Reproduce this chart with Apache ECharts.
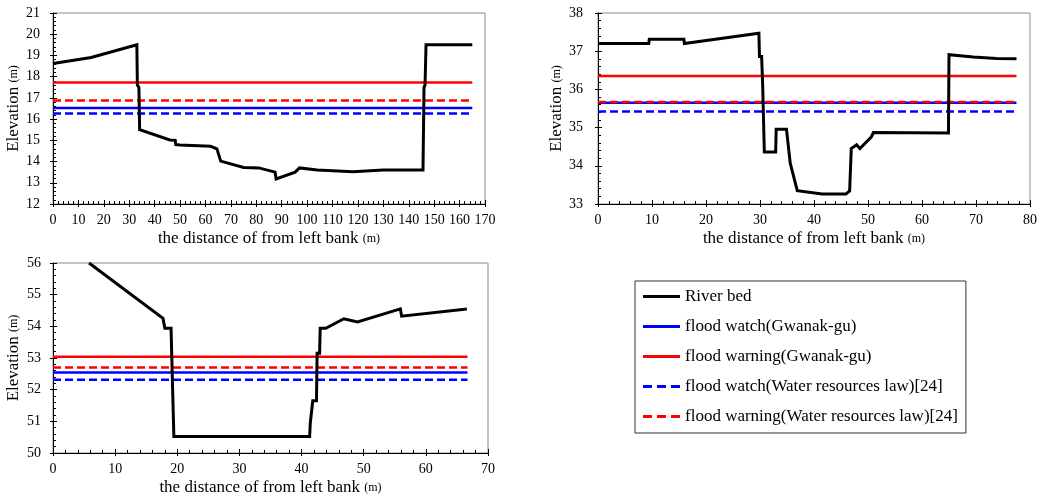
<!DOCTYPE html>
<html>
<head>
<meta charset="utf-8">
<script src="https://cdn.jsdelivr.net/npm/echarts@6/dist/echarts.min.js"></script>
<style>html,body{margin:0;padding:0;background:#fff;}#c{width:1040px;height:497px;}</style>
</head>
<body>
<div id="c"></div>
<script>
// ---- Data ----
const seriesNames = ['River bed', 'flood watch(Gwanak-gu)', 'flood warning(Gwanak-gu)', 'flood watch(Water resources law)[24]', 'flood warning(Water resources law)[24]'];

// Section 1
const bed1Dist = [0, 15, 33, 33.2, 33.8, 34, 34.1, 46, 48.1, 48.3, 50, 62, 64.5, 66, 75, 81, 87.4, 87.8, 95.3, 97, 104, 118, 130, 145.6, 146, 146.4, 146.8, 165];
const bed1Elev = [18.62, 18.9, 19.5, 17.6, 17.5, 17.5, 15.5, 15.02, 15.0, 14.8, 14.78, 14.72, 14.6, 14.02, 13.72, 13.7, 13.5, 13.18, 13.5, 13.7, 13.6, 13.52, 13.6, 13.6, 17.5, 17.6, 19.5, 19.5];
const levels1 = [16.52, 17.73, 16.26, 16.88]; // watch G, warning G, watch WRL, warning WRL
const end1 = 165;

// Section 2
const bed2Dist = [0, 9.4, 9.5, 15.9, 16, 29.8, 29.9, 30.3, 30.5, 30.8, 32.9, 33, 34.9, 35.6, 36.9, 41.5, 45.9, 46.6, 46.9, 47.9, 48.5, 50.6, 51, 64.9, 65, 69.5, 73.8, 77.5];
const bed2Elev = [37.2, 37.2, 37.31, 37.31, 37.2, 37.47, 36.86, 36.86, 36.1, 34.36, 34.36, 34.96, 34.96, 34.07, 33.35, 33.26, 33.26, 33.34, 34.45, 34.55, 34.45, 34.75, 34.87, 34.86, 36.91, 36.85, 36.81, 36.8];
const levels2 = [35.65, 36.35, 35.42, 35.67];
const end2 = 77.5;

// Section 3
const bed3Dist = [5.8, 17.7, 18, 19, 19.1, 19.4, 19.45, 41.3, 41.4, 41.7, 41.8, 42.4, 42.5, 42.9, 43, 43.9, 46.8, 49, 55.9, 56.1, 66.6];
const bed3Elev = [56.0, 54.25, 53.94, 53.94, 53.15, 53.15, 50.52, 50.52, 50.94, 50.94, 51.65, 51.65, 53.15, 53.15, 53.94, 53.94, 54.24, 54.14, 54.55, 54.32, 54.55];
const levels3 = [52.54, 53.04, 52.31, 52.70];
const end3 = 66.7;

// ---- Build ----
const FONT = "'Liberation Serif','Times New Roman',serif";
const lineColors = ['#0000ff', '#ff0000', '#0000ff', '#ff0000'];
const lineTypes = ['solid', 'solid', [8, 4], [8, 4]];
const SOLID_ICON = 'path://M0,0h37v3h-37z';
const DASH_ICON = 'path://M0,0h9v3h-9z M14,0h9v3h-9z M28,0h9v3h-9z';
const legendIcons = [SOLID_ICON, SOLID_ICON, SOLID_ICON, DASH_ICON, DASH_ICON];

const sections = [
  {dist: bed1Dist, elev: bed1Elev, levels: levels1, end: end1, x: [0, 170], y: [12, 21], ym: 13,
   grid: {left: 53, top: 13, width: 432, height: 191}},
  {dist: bed2Dist, elev: bed2Elev, levels: levels2, end: end2, x: [0, 80], y: [33, 38], ym: 15,
   grid: {left: 598, top: 13, width: 432, height: 191}},
  {dist: bed3Dist, elev: bed3Elev, levels: levels3, end: end3, x: [0, 70], y: [50, 56], ym: 12,
   grid: {left: 53, top: 263, width: 435, height: 191}}
];

const grids = [], xAxes = [], yAxes = [], series = [];

function mainAxis(isX, gi, range, margin) {
  const a = {
    type: 'value', gridIndex: gi, min: range[0], max: range[1], interval: isX ? 10 : 1,
    position: isX ? 'bottom' : 'left',
    axisLine: {show: true, lineStyle: {color: '#000', width: 1}},
    axisTick: {show: true, inside: true, length: 4, lineStyle: {color: '#000'}},
    minorTick: {show: true, splitNumber: 5, length: 3, lineStyle: {color: '#000'}},
    splitLine: {show: false},
    axisLabel: {color: '#000', fontFamily: FONT, fontSize: 14, margin: margin},
    nameLocation: 'middle',
    nameTextStyle: {color: '#000', fontFamily: FONT}
  };
  if (isX) {
    a.name = '{a|the distance of from left bank }{b|(m)}';
    a.nameGap = 26;
    a.nameTextStyle.rich = {a: {fontSize: 17, fontFamily: FONT, color: '#000'}, b: {fontSize: 12, fontFamily: FONT, color: '#000'}};
  } else {
    a.name = '{a|Elevation }{b|(m)}';
    a.nameGap = 31;
    a.nameTextStyle.rich = {a: {fontSize: 17, fontFamily: FONT, color: '#000'}, b: {fontSize: 12, fontFamily: FONT, color: '#000'}};
  }
  return a;
}
function tickAxis(isX, gi, range) {
  return {
    type: 'value', gridIndex: gi, min: range[0], max: range[1], interval: isX ? 10 : 1,
    position: isX ? 'bottom' : 'left',
    axisLine: {show: false},
    axisTick: {show: true, inside: false, length: 3, lineStyle: {color: '#000'}},
    axisLabel: {show: false}, splitLine: {show: false}
  };
}

sections.forEach((s, gi) => {
  grids.push(Object.assign({show: true, borderColor: '#8c8c8c', borderWidth: 1, backgroundColor: 'transparent'}, s.grid));
  const xi = xAxes.length, yi = yAxes.length;
  xAxes.push(mainAxis(true, gi, s.x, 9));
  xAxes.push(tickAxis(true, gi, s.x));
  yAxes.push(mainAxis(false, gi, s.y, s.ym));
  yAxes.push(tickAxis(false, gi, s.y));
  s.levels.forEach((lv, k) => {
    series.push({
      name: seriesNames[k + 1], type: 'line', xAxisIndex: xi, yAxisIndex: yi,
      data: [[0, lv], [s.end, lv]], showSymbol: false, symbol: 'none', silent: true,
      lineStyle: {color: lineColors[k], width: 2.5, type: lineTypes[k]},
      itemStyle: {color: lineColors[k]}, z: 2 + k
    });
  });
  series.push({
    name: seriesNames[0], type: 'line', xAxisIndex: xi, yAxisIndex: yi,
    data: s.dist.map((d, i) => [d, s.elev[i]]), showSymbol: false, symbol: 'none', silent: true,
    lineStyle: {color: '#000', width: 3, join: 'miter'}, itemStyle: {color: '#000'}, z: 10
  });
});

const chart = echarts.init(document.getElementById('c'), null, {renderer: 'canvas'});
chart.setOption({
  animation: false,
  backgroundColor: '#fff',
  grid: grids,
  xAxis: xAxes,
  yAxis: yAxes,
  legend: {
    data: seriesNames.map((n, i) => ({name: n, icon: legendIcons[i]})),
    orient: 'vertical', left: 635, top: 281,
    itemWidth: 37, itemHeight: 3, itemGap: 13,
    borderColor: '#333', borderWidth: 1, padding: [7, 8, 8, 8],
    textStyle: {fontFamily: FONT, fontSize: 17, lineHeight: 17, color: '#000'},
    selectedMode: false
  },
  series: series
});
</script>
</body>
</html>
